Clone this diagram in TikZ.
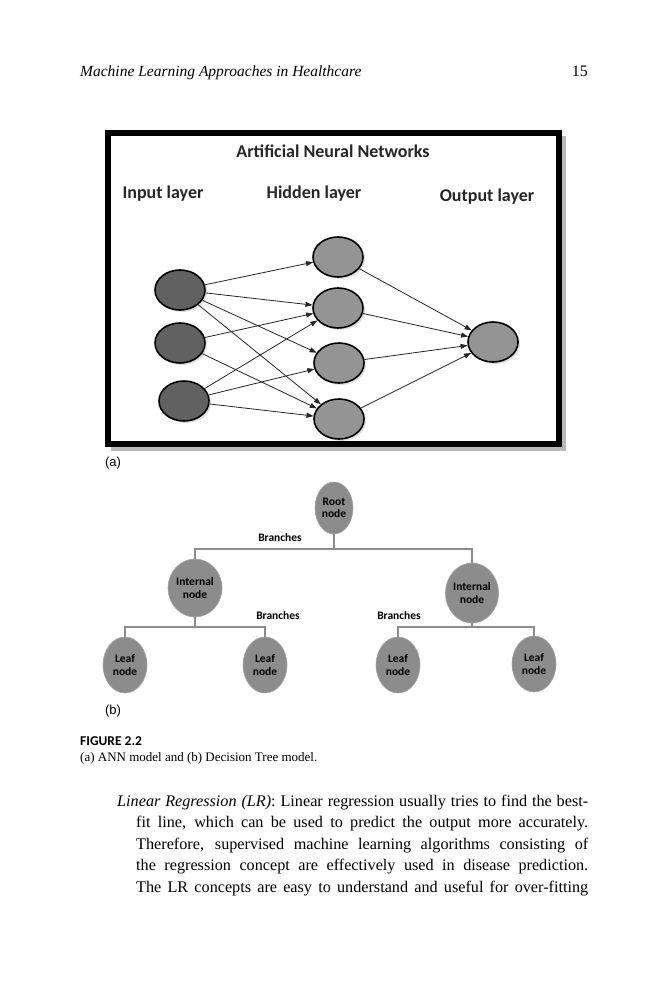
\documentclass[tikz,border=0pt]{standalone}
\usepackage{fontspec}
\setmainfont{Liberation Serif}
\newfontfamily\calfont{Carlito}
\newfontfamily\arialfont{Liberation Sans}
\usetikzlibrary{arrows.meta,shapes.geometric,shadows}
\definecolor{indark}{gray}{0.38}
\definecolor{hidgray}{gray}{0.58}
\definecolor{treegray}{gray}{0.55}
\definecolor{treeline}{gray}{0.55}
\tikzset{
  annlabel/.style={font=\calfont\bfseries\fontsize{18}{20}\selectfont, inner sep=0, text=black!85},
  neuron/.style={ellipse, draw=black, line width=1.6pt, minimum width=50pt, minimum height=40pt, inner sep=0,
     drop shadow={shadow xshift=2pt, shadow yshift=-2pt, opacity=0.25}},
  inneuron/.style={neuron, fill=indark},
  hidneuron/.style={neuron, fill=hidgray},
  link/.style={draw=black!85, line width=0.8pt, -{Triangle[length=7pt,width=5pt]}},
  treenode/.style={ellipse, draw=gray!70, line width=0.6pt, fill=treegray, inner sep=0, align=center,
     font=\calfont\bfseries\fontsize{11.5}{12.5}\selectfont},
  leafnode/.style={treenode, minimum width=44pt, minimum height=56pt},
  treelink/.style={draw=treeline, line width=1.4pt},
  brlabel/.style={font=\calfont\bfseries\fontsize{11.5}{13}\selectfont, inner sep=0},
  sublabel/.style={font=\arialfont\fontsize{13}{15}\selectfont, inner sep=0},
  bodyline/.style={anchor=base west, inner sep=0, font=\fontsize{16.2}{19}\selectfont},
}
\begin{document}
\begin{tikzpicture}[x=1pt,y=-1pt]
\useasboundingbox (0,0) rectangle (666,1000);
\fill[white] (0,0) rectangle (666,1000);

% running head
\node[anchor=base west, inner sep=0, font=\itshape\fontsize{15.5}{18}\selectfont] (head) at (80,77) {Machine Learning Approaches in Healthcare};
\node[anchor=base east, inner sep=0, font=\fontsize{16}{18}\selectfont] (page) at (588,77) {15};

% ANN frame
\fill[gray!55] (111,136) rectangle (566,451);
\draw[line width=6pt, fill=white] (108,133) rectangle (559,444);

\node[annlabel] (ttl) at (333,151) {Artificial Neural Networks};
\node[annlabel] (lin) at (163,194) {Input layer};
\node[annlabel] (lhid) at (314,194) {Hidden layer};
\node[annlabel] (lout) at (487,197) {Output layer};

\node[inneuron] (i1) at (180,290) {};
\node[inneuron] (i2) at (180,343) {};
\node[inneuron] (i3) at (184,401) {};
\node[hidneuron] (h1) at (338,257) {};
\node[hidneuron] (h2) at (338,308) {};
\node[hidneuron] (h3) at (339,363) {};
\node[hidneuron] (h4) at (339,419) {};
\node[hidneuron] (o) at (493,342) {};

\draw[link] (i1) -- (h1);
\draw[link] (i1) -- (h2);
\draw[link] (i1) -- (h3);
\draw[link] (i1) -- (h4);
\draw[link] (i2) -- (h2);
\draw[link] (i2) -- (h4);
\draw[link] (i3) -- (h2);
\draw[link] (i3) -- (h3);
\draw[link] (i3) -- (h4);
\draw[link] (h1) -- (o);
\draw[link] (h2) -- (o);
\draw[link] (h3) -- (o);
\draw[link] (h4) -- (o);

\node[sublabel] (suba) at (113,463) {(a)};

% Decision tree
\node[treenode, minimum width=38pt, minimum height=52pt] (root) at (334,508) {Root\\node};
\node[treenode, minimum width=54pt, minimum height=58pt] (il) at (195,588) {Internal\\node};
\node[treenode, minimum width=48pt, minimum height=60pt] (ir) at (472,593) {Internal\\node};
\node[leafnode] (l1) at (125,665) {Leaf\\node};
\node[leafnode] (l2) at (265,665) {Leaf\\node};
\node[leafnode] (l3) at (398,665) {Leaf\\node};
\node[leafnode] (l4) at (534,664) {Leaf\\node};

\coordinate (b1) at (334,549);
\coordinate (b2) at (195,627);
\coordinate (b3) at (472,627);
\draw[treelink] (root) -- (b1);
\draw[treelink] (il.north) -- (il.north |- b1) -- (ir.north |- b1) -- (ir.north);
\draw[treelink] (il) -- (b2);
\draw[treelink] (l1.north) -- (l1.north |- b2) -- (l2.north |- b2) -- (l2.north);
\draw[treelink] (ir) -- (b3);
\draw[treelink] (l3.north) -- (l3.north |- b3) -- (l4.north |- b3) -- (l4.north);

\node[brlabel] (br1) at (280,538) {Branches};
\node[brlabel] (br2) at (278,616) {Branches};
\node[brlabel] (br3) at (399,616) {Branches};

\node[sublabel] (subb) at (113,711) {(b)};

% caption
\node[anchor=base west, inner sep=0, font=\calfont\bfseries\fontsize{13.5}{15}\selectfont] (capt) at (80,745) {FIGURE 2.2};
\node[anchor=base west, inner sep=0, font=\fontsize{13}{15}\selectfont] (capt2) at (80,761) {(a) ANN model and (b) Decision Tree model.};

% body text
\node[bodyline] (p1) at (117,806) {\makebox[471pt][s]{\textit{Linear Regression (LR)}: Linear regression usually tries to find the best-}};
\node[bodyline] (p2) at (136,827) {\makebox[452pt][s]{fit line, which can be used to predict the output more accurately.}};
\node[bodyline] (p3) at (136,849) {\makebox[452pt][s]{Therefore, supervised machine learning algorithms consisting of}};
\node[bodyline] (p4) at (136,870) {\makebox[452pt][s]{the regression concept are effectively used in disease prediction.}};
\node[bodyline] (p5) at (136,892) {\makebox[452pt][s]{The LR concepts are easy to understand and useful for over-fitting}};
\end{tikzpicture}
\end{document}
